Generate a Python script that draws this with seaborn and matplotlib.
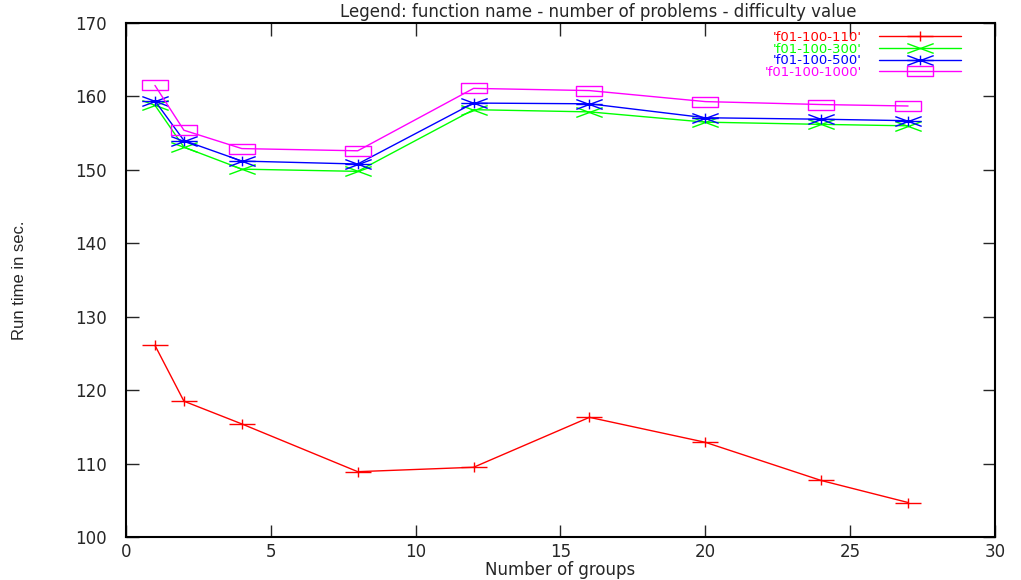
import numpy as np
import pandas as pd
import matplotlib
matplotlib.use("Agg")
import matplotlib.pyplot as plt
from matplotlib.path import Path
import seaborn as sns

# data
groups = [1, 2, 4, 8, 12, 16, 20, 24, 27]
f110 = [126.1, 118.5, 115.4, 108.9, 109.5, 116.3, 112.9, 107.7, 104.7]
f300 = [158.8, 153.1, 150.1, 149.8, 158.2, 157.9, 156.5, 156.2, 156.0]
f500 = [159.4, 154.0, 151.2, 150.8, 159.1, 159.0, 157.1, 156.9, 156.7]
f1000 = [161.5, 155.4, 152.9, 152.6, 161.1, 160.8, 159.3, 158.9, 158.7]
names = ["'f01-100-110'", "'f01-100-300'", "'f01-100-500'", "'f01-100-1000'"]
colors = ["#ff0000", "#00ff00", "#0000ff", "#ff00ff"]

sns.set_style("ticks")
plt.rcParams['font.family'] = ['DejaVu Sans']

# gnuplot-ish wide markers
h = 0.37
M, L, C = Path.MOVETO, Path.LINETO, Path.CLOSEPOLY
plus = Path([(-1, 0), (1, 0), (0, -h), (0, h)], [M, L, M, L])
cross = Path([(-1, -h), (1, h), (-1, h), (1, -h)], [M, L, M, L])
star = Path([(-1, 0), (1, 0), (0, -h), (0, h), (-1, -h), (1, h), (-1, h), (1, -h)],
            [M, L, M, L, M, L, M, L])
box = Path([(-1, -h), (1, -h), (1, h), (-1, h), (-1, -h)], [M, L, L, L, C])
markers = [plus, cross, star, box]

df = pd.DataFrame({"groups": groups * 4,
                   "time": f110 + f300 + f500 + f1000,
                   "name": sum([[n] * len(groups) for n in names], [])})

fig = plt.figure(figsize=(10.21, 5.8), dpi=100)
ax = fig.add_axes([0.1234, 0.0741, 0.8511, 0.8862])

for n, c, m in zip(names, colors, markers):
    sub = df[df.name == n]
    sns.lineplot(data=sub, x="groups", y="time", ax=ax, color=c, label=n,
                 marker=m, markersize=19, markerfacecolor="none",
                 markeredgecolor=c, markeredgewidth=1.0, linewidth=1.0)

ax.set_xlim(0, 30)
ax.set_ylim(100, 170)
ax.set_xticks(np.arange(0, 31, 5))
ax.set_yticks(np.arange(100, 171, 10))
ax.tick_params(direction="in", length=9, width=1, top=True, right=True,
               labelsize=12)
ax.tick_params(axis="y", pad=14)
ax.tick_params(axis="x", pad=4)
for s in ax.spines.values():
    s.set_linewidth(1.5)
    s.set_color("black")

ax.set_xlabel("Number of groups", fontsize=12, labelpad=0)
ax.set_ylabel("Run time in sec.", fontsize=12, family=['Liberation Sans'])
ax.yaxis.set_label_coords(-0.114, 0.5)
ax.set_title("Legend: function name - number of problems - difficulty value",
             fontsize=12, x=0.544, pad=4)

ax.legend(loc="upper right", frameon=False, markerfirst=False,
          labelcolor="linecolor", fontsize=9.5, handlelength=6.2,
          labelspacing=-0.1, handletextpad=1.3, borderaxespad=0.2,
          bbox_to_anchor=(0.97, 1.0))

fig.savefig("out.png", dpi=100)
